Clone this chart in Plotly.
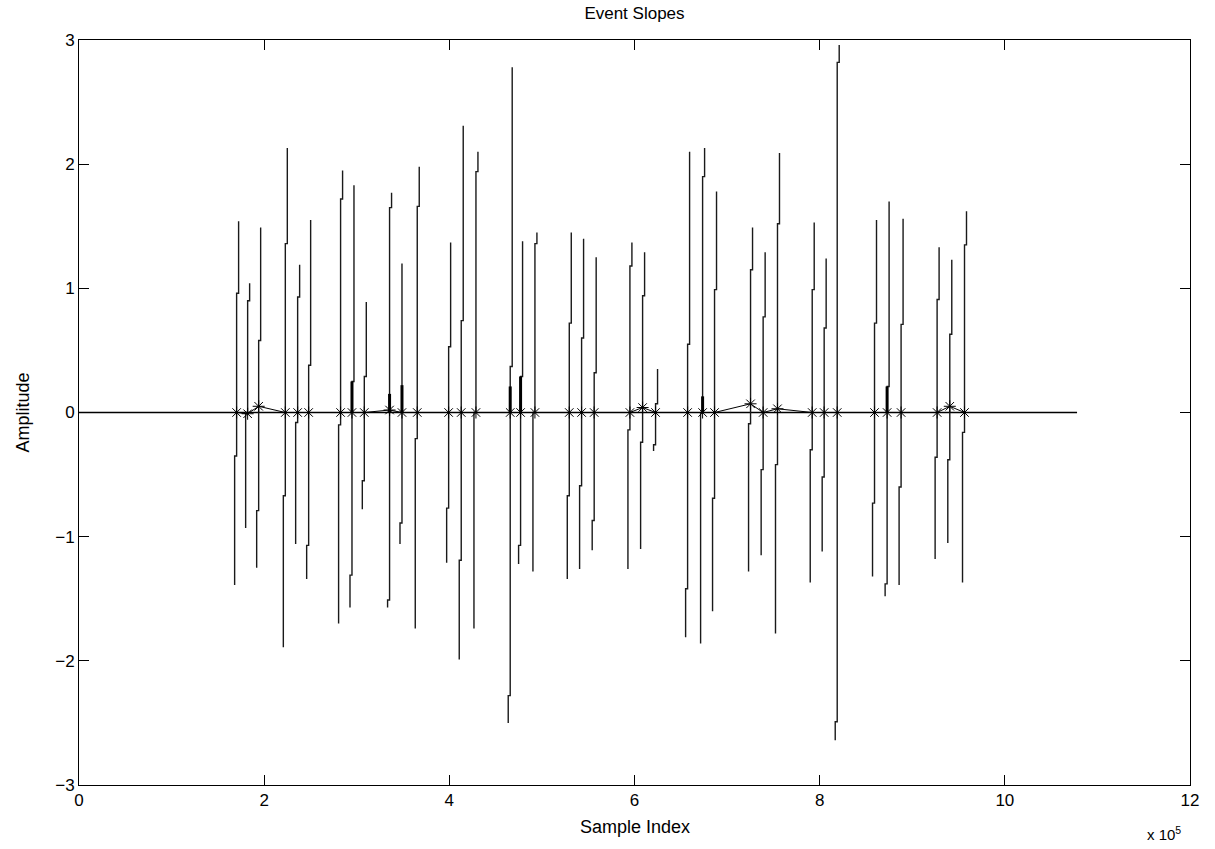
import plotly.graph_objects as go

# ---------------- data ----------------
signal_length = 1078000          # length of the zero baseline signal (samples)

# start sample index of each event trace (lowest segment)
event_start = [
    168100, 180000, 191900,
    220700, 234000, 245900,
    280400, 292700, 306000,
    333300, 346700, 363200,
    397100, 410700, 426600,
    463600, 474800, 490300,
    527400, 540700, 554300,
    592900, 606600, 620600,
    655200, 671400, 684300,
    723200, 736800, 752300,
    789800, 802700, 816800,
    857100, 870700, 885800,
    924700, 938400, 954300,
]

# amplitude break points of each event (bottom ... top)
event_levels = [
    [-1.39, -0.35, 0.96, 1.54],
    [-0.93, 0.00, 0.90, 1.04],
    [-1.25, -0.79, 0.58, 1.49],
    [-1.89, -0.67, 1.36, 2.13],
    [-1.06, -0.08, 0.93, 1.19],
    [-1.34, -1.07, 0.38, 1.55],
    [-1.70, -0.10, 1.72, 1.95],
    [-1.57, -1.31, 0.25, 1.83],
    [-0.78, -0.55, 0.29, 0.89],
    [-1.57, -1.51, 1.65, 1.77],
    [-1.06, -0.89, 1.20],
    [-1.74, -0.21, 1.66, 1.98],
    [-1.21, -0.77, 0.53, 1.37],
    [-1.99, -1.19, 0.74, 2.31],
    [-1.74, 0.00, 1.94, 2.10],
    [-2.50, -2.28, 0.37, 2.78],
    [-1.22, -1.07, 0.29, 1.38],
    [-1.28, 0.00, 1.36, 1.45],
    [-1.34, -0.67, 0.72, 1.45],
    [-1.26, -0.59, 0.60, 1.40],
    [-1.11, -0.87, 0.32, 1.25],
    [-1.26, -0.14, 1.18, 1.37],
    [-1.10, -0.24, 0.94, 1.29],
    [-0.31, -0.26, 0.07, 0.35],
    [-1.81, -1.42, 0.55, 2.10],
    [-1.86, 0.00, 1.90, 2.13],
    [-1.60, -0.69, 0.99, 1.78],
    [-1.28, -0.09, 1.15, 1.49],
    [-1.15, -0.46, 0.77, 1.29],
    [-1.78, -0.42, 1.52, 2.09],
    [-1.37, -0.30, 0.99, 1.53],
    [-1.12, -0.52, 0.68, 1.24],
    [-2.64, -2.49, 2.82, 2.96],
    [-1.32, -0.73, 0.72, 1.55],
    [-1.48, -1.38, 0.21, 1.70],
    [-1.39, -0.60, 0.71, 1.56],
    [-1.18, -0.36, 0.91, 1.33],
    [-1.05, -0.38, 0.63, 1.23],
    [-1.37, -0.16, 1.35, 1.62],
]

# short thick slope piece just above zero (0 = none)
event_bar = [
    0, 0, 0,
    0, 0, 0,
    0, 0.25, 0,
    0.15, 0.22, 0,
    0, 0, 0,
    0.21, 0.29, 0,
    0, 0, 0,
    0, 0, 0,
    0, 0.13, 0,
    0, 0, 0,
    0, 0, 0,
    0, 0.21, 0,
    0, 0, 0,
]

# amplitude of the detected crossing marker of each event
star_amp = [
    0.00, -0.01, 0.05,
    0.00, 0.00, 0.00,
    0.00, 0.00, 0.00,
    0.02, 0.00, 0.00,
    0.00, 0.00, 0.00,
    0.00, 0.00, 0.00,
    0.00, 0.00, 0.00,
    0.00, 0.04, 0.00,
    0.00, 0.00, 0.00,
    0.07, 0.00, 0.03,
    0.00, 0.00, 0.00,
    0.00, 0.00, 0.00,
    0.00, 0.05, 0.00,
]

step_dx = 2150          # sample shift between successive slope segments

x_tick_vals = [0, 200000, 400000, 600000, 800000, 1000000, 1200000]
x_tick_text = ["0", "2", "4", "6", "8", "10", "12"]
y_tick_vals = [-3, -2, -1, 0, 1, 2, 3]

# ---------------- build traces ----------------
ex, ey = [], []
cross_x = []
for x0, lv in zip(event_start, event_levels):
    k_cross = 0
    for k in range(len(lv) - 1):
        xs = x0 + k * step_dx
        ex += [xs, xs]
        ey += [lv[k], lv[k + 1]]
        if lv[k] <= 0 < lv[k + 1]:
            k_cross = k
    ex.append(None)
    ey.append(None)
    cross_x.append(x0 + k_cross * step_dx)

bx, by = [], []
for cx, b in zip(cross_x, event_bar):
    if b > 0:
        bx += [cx, cx, None]
        by += [0, b, None]

fig = go.Figure()
fig.add_trace(go.Scatter(x=[0, signal_length], y=[0, 0], mode="lines",
                         line=dict(color="black", width=1.3), hoverinfo="skip"))
fig.add_trace(go.Scatter(x=ex, y=ey, mode="lines",
                         line=dict(color="#1a1a1a", width=1.4), hoverinfo="skip"))
fig.add_trace(go.Scatter(x=bx, y=by, mode="lines",
                         line=dict(color="black", width=3), hoverinfo="skip"))
fig.add_trace(go.Scatter(x=cross_x, y=star_amp, mode="lines+markers",
                         line=dict(color="black", width=1),
                         marker=dict(symbol="asterisk-open", size=10,
                                     line=dict(color="black", width=1)),
                         hoverinfo="skip"))

font_family = "Liberation Sans, Arial, Helvetica, sans-serif"

axis_common = dict(showline=True, linecolor="black", linewidth=1, mirror="ticks",
                   ticks="inside", ticklen=10, tickcolor="black", tickwidth=1,
                   showgrid=False, zeroline=False,
                   tickfont=dict(family=font_family, size=17, color="black"))

fig.update_layout(
    width=1215, height=849,
    margin=dict(l=79, r=25, t=40, b=64),
    paper_bgcolor="white", plot_bgcolor="white",
    showlegend=False,
    title=dict(text="Event Slopes", x=0.5222, xanchor="center", y=0.985, yanchor="middle",
               font=dict(family=font_family, size=17, color="black")),
    xaxis=dict(range=[0, 1200000], tickvals=x_tick_vals, ticktext=x_tick_text, **axis_common),
    yaxis=dict(range=[-3, 3], tickvals=y_tick_vals, **axis_common),
    annotations=[
        dict(text="Sample Index", xref="paper", yref="paper", x=0.5, y=-0.040,
             xanchor="center", yanchor="top", showarrow=False,
             font=dict(family=font_family, size=18, color="black")),
        dict(text="Amplitude", xref="paper", yref="paper", x=-0.0513, y=0.5,
             xanchor="center", yanchor="middle", textangle=-90, showarrow=False,
             font=dict(family=font_family, size=18, color="black")),
        dict(text="x 10<sup>5</sup>", xref="paper", yref="paper", x=0.977, y=-0.050,
             xanchor="center", yanchor="top", showarrow=False,
             font=dict(family=font_family, size=15, color="black")),
    ],
)

fig.write_html("out.html")
